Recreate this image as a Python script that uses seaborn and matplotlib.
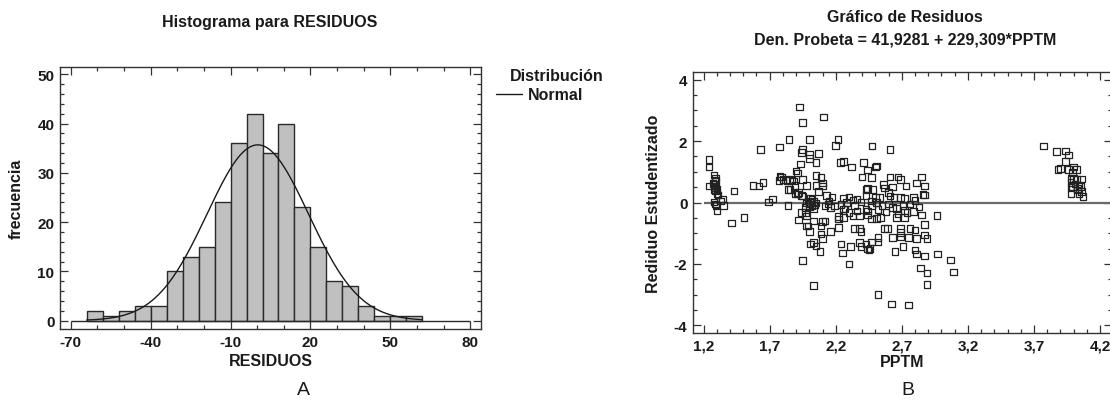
import numpy as np
import pandas as pd
import matplotlib
matplotlib.use("Agg")
import matplotlib.pyplot as plt
from matplotlib.lines import Line2D
from matplotlib.ticker import MultipleLocator, FixedLocator
import seaborn as sns

# ---- Histogram of residuals (bin edges every 6 units) ----
bin_edges = [-64, -58, -52, -46, -40, -34, -28, -22, -16, -10, -4, 2, 8,
             14, 20, 26, 32, 38, 44, 50, 56, 62]
bin_counts = [2, 1, 2, 3, 3, 10, 13, 15, 24, 36, 42, 34, 40,
              23, 15, 8, 7, 3, 1, 1, 1]
hist_xticks = [-70, -40, -10, 20, 50, 80]
hist_yticks = [0, 10, 20, 30, 40, 50]

# ---- Studentized residuals vs PPTM ----
pptm = [
    1.24, 1.24, 1.24, 1.28, 1.285, 1.29, 1.28, 1.295, 1.285, 1.30, 1.28, 1.30, 1.29,
    1.31, 1.27, 1.29, 1.28, 1.29, 1.295, 1.30, 1.345, 1.35, 1.33, 1.43, 1.41, 1.505,
    1.573, 1.62, 1.65, 1.63, 1.69, 1.72, 1.776, 1.78, 1.79, 1.77, 1.80, 1.846, 1.84,
    1.85, 1.84, 1.88, 1.89, 1.90, 1.927, 1.95, 1.94, 1.935, 1.92, 1.95, 1.95, 1.94,
    1.92, 1.95, 1.95, 1.87, 1.89, 1.855, 1.91, 1.94, 1.97, 1.98, 1.91, 1.83,
    2.109, 2.0, 2.0, 2.0, 2.07, 2.05, 2.217, 2.2, 2.236, 2.26, 2.32, 2.41, 2.44, 2.40,
    2.05, 2.09, 2.10, 2.10, 2.05, 1.98, 2.17, 2.26, 2.30, 2.33, 2.36, 2.43, 2.43,
    1.99, 2.0, 2.01, 2.02, 2.03, 2.0, 2.04, 2.02, 1.98, 2.03, 2.01, 2.05,
    2.14, 2.16, 2.12, 1.97, 1.98, 2.03, 2.10, 2.12, 2.09, 1.99, 2.00, 2.09, 2.10,
    2.16, 2.03, 2.01, 2.05, 2.08, 2.03, 2.22, 2.22, 2.26, 2.27, 2.30, 2.33, 2.36,
    2.38, 2.34, 2.38, 2.39, 2.43, 2.44, 2.24, 2.25, 2.31, 2.38, 2.39, 2.44, 2.30,
    2.26, 2.22, 2.07, 2.15, 2.19, 2.24, 2.28, 2.34, 2.39, 2.13,
    2.475, 2.61, 2.51, 2.50, 2.47, 2.61, 2.67, 2.69, 2.85, 2.81, 2.87, 2.56, 2.57,
    2.63, 2.73, 2.44, 2.48, 2.50, 2.53, 2.60, 2.61, 2.64, 2.69, 2.72, 2.79, 2.80,
    2.86, 2.87, 2.47, 2.51, 2.47, 2.52, 2.58, 2.63, 2.67, 2.71, 2.72, 2.74, 2.79,
    2.66, 2.72, 2.47, 2.51, 2.54, 2.44, 2.57, 2.59, 2.69, 2.69, 2.76, 2.80, 2.87,
    2.87, 2.89, 2.63, 2.69, 2.75, 2.81, 2.52, 2.52, 2.47, 2.43, 2.45, 2.46, 2.65,
    2.71, 2.80, 2.81, 2.87, 2.84, 2.89, 2.89, 2.52, 2.62, 2.75, 2.55, 2.60, 2.66,
    2.76, 2.83, 2.85,
    2.967, 2.97, 3.07, 3.09, 3.77, 3.87, 3.94, 3.96, 3.94, 3.88, 3.90, 3.96, 4.0,
    4.02, 3.99, 3.98, 4.0, 4.02, 4.06, 3.98, 4.01, 4.04, 4.05, 3.98, 3.99, 4.03,
    4.06, 3.98, 4.04, 4.07, 4.03,
]
resid_est = [
    1.40, 1.15, 0.53, 0.90, 0.74, 0.70, 0.59, 0.54, 0.48, 0.43, 0.42, 0.30, 0.37,
    0.25, 0.62, 0.80, 0.02, -0.05, -0.10, -0.27, 0.11, -0.10, 0.05, 0.38, -0.67, -0.49,
    0.56, 0.54, 0.65, 1.73, 0.02, 0.11, 1.80, 0.85, 0.83, 0.71, 0.75, 2.05, -0.09,
    0.75, 0.43, 0.70, 0.30, 1.02, 3.11, 2.61, 1.62, 1.26, 0.32, 0.21, 0.75, -0.33,
    -0.57, -1.89, 1.73, 0.74, 0.56, 0.43, 0.27, 0.22, -0.17, -0.76, 0.96, 0.72,
    2.78, 2.05, 1.57, 1.43, 1.59, 1.30, 2.05, 1.86, 1.30, 1.33, 1.16, 1.30, 1.06, 0.83,
    0.88, 0.81, 0.63, 0.54, 0.56, 0.56, 0.18, 0.14, 0.18, 0.08, 0.12, 0.42, 0.23,
    0.05, -0.05, 0.0, -0.10, 0.03, -0.15, -0.08, 0.10, -0.02, -0.20, 0.15, -0.02,
    -0.05, -0.16, -0.11, -0.33, -0.44, -0.60, -0.62, -0.60, -0.76, -0.76, -0.95, -1.03, -1.17,
    -0.95, -1.30, -1.35, -1.41, -1.60, -2.70, -0.54, -0.81, -0.21, -0.21, -0.33, -0.44, -0.28,
    -0.44, -0.85, -0.85, -0.95, -0.22, -0.40, -1.35, -1.65, -1.43, -1.30, -1.43, -1.51, -2.0,
    -0.49, -0.45, 0.35, 0.05, -0.12, -0.06, 0.0, -0.10, 0.02, 0.22,
    1.84, 1.73, 1.19, 1.15, 0.81, 0.83, 0.83, 0.75, 0.83, 0.64, 0.54, 0.59, 0.48,
    0.51, 0.54, 0.45, 0.43, 0.16, 0.16, 0.32, 0.21, 0.16, 0.16, 0.13, 0.16, 0.06,
    0.26, 0.24, 0.05, 0.0, -0.10, -0.22, -0.31, -0.16, -0.38, -0.10, -0.26, -0.33, -0.29,
    -0.49, -0.49, -0.54, -0.52, -0.49, -0.27, -0.85, -0.85, -0.85, -0.97, -0.85, -0.89, -0.71,
    -1.06, -1.17, -1.14, -1.12, -1.14, -1.17, -1.14, -1.28, -1.28, -1.35, -1.54, -1.50, -1.60,
    -1.43, -1.54, -1.68, -1.75, -2.14, -2.29, -2.67, -3.0, -3.30, -3.34, -0.10, -0.05, -0.20,
    -0.05, -0.15, -0.40,
    -0.43, -1.68, -1.88, -2.26, 1.84, 1.66, 1.67, 1.54, 1.33, 1.08, 1.10, 1.08, 1.16,
    1.08, 0.97, 0.78, 0.78, 0.76, 0.76, 0.65, 0.60, 0.57, 0.52, 0.49, 0.52, 0.41,
    0.36, 0.30, 0.30, 0.20, 0.45,
]
scatter_xticks = [1.2, 1.7, 2.2, 2.7, 3.2, 3.7, 4.2]
scatter_xlabels = ["1,2", "1,7", "2,2", "2,7", "3,2", "3,7", "4,2"]
scatter_yticks = [-4, -2, 0, 2, 4]

sns.set_theme(style="ticks")
plt.rcParams["font.family"] = ["Liberation Sans", "DejaVu Sans"]

W, H = 1110, 410
fig = plt.figure(figsize=(W / 100, H / 100), dpi=100)


def px_box(x0, y0, x1, y1):
    return [x0 / W, 1 - y1 / H, (x1 - x0) / W, (y1 - y0) / H]


INK = "#1a1a1a"
tick_font = dict(fontsize=11, fontweight="bold", color=INK)
label_font = dict(fontsize=11.5, fontweight="bold", color=INK)
title_font = dict(fontsize=11.5, fontweight="bold", color=INK)


def style_axes(ax):
    for sp in ax.spines.values():
        sp.set_color("#333333")
        sp.set_linewidth(1.0)
    ax.tick_params(which="both", direction="in", top=True, right=True,
                   color="#333333", width=0.9, pad=4)
    ax.tick_params(which="major", length=6)
    ax.tick_params(which="minor", length=3)


# ---------------- Panel A: histogram ----------------
axA = fig.add_axes(px_box(60, 68, 481, 330))
edges = np.array(bin_edges, dtype=float)
counts = np.array(bin_counts, dtype=float)
centers = (edges[:-1] + edges[1:]) / 2
hist_df = pd.DataFrame({"RESIDUOS": centers, "n": counts})
sns.histplot(data=hist_df, x="RESIDUOS", weights="n", bins=list(bin_edges), ax=axA,
             color="#c0c0c0", edgecolor="#2a2a2a", linewidth=1.0, alpha=1.0)

# fitted normal density scaled to counts
n_tot = counts.sum()
mu = (counts * centers).sum() / n_tot
sd = np.sqrt((counts * (centers - mu) ** 2).sum() / n_tot)
bw = edges[1] - edges[0]
xs = np.linspace(edges[0], edges[-1], 300)
dens = n_tot * bw * np.exp(-0.5 * ((xs - mu) / sd) ** 2) / (sd * np.sqrt(2 * np.pi))
sns.lineplot(x=xs, y=dens, ax=axA, color=INK, linewidth=1.0)
axA.hlines(0, hist_xticks[0], hist_xticks[-1], color="#2a2a2a", linewidth=1.0)

axA.set_xlim(-74, 84)
axA.set_ylim(-1.7, 51.5)
axA.xaxis.set_major_locator(FixedLocator(hist_xticks))
axA.xaxis.set_minor_locator(MultipleLocator(10))
axA.yaxis.set_major_locator(FixedLocator(hist_yticks))
axA.yaxis.set_minor_locator(MultipleLocator(2))
axA.set_xticklabels([str(v) for v in hist_xticks], **tick_font)
axA.set_yticklabels([str(v) for v in hist_yticks], **tick_font)
style_axes(axA)
axA.set_xlabel("RESIDUOS", labelpad=3, **label_font)
axA.set_ylabel("frecuencia", labelpad=10, **label_font)

fig.text(270 / W, 1 - 22 / H, "Histograma para RESIDUOS", ha="center", va="center",
         **title_font)

# legend
fig.text(557 / W, 1 - 77 / H, "Distribución", ha="center", va="center", **title_font)
fig.add_artist(Line2D([496 / W, 522 / W], [1 - 95 / H, 1 - 95 / H],
                      color=INK, linewidth=1.0, transform=fig.transFigure))
fig.text(528 / W, 1 - 95 / H, "Normal", ha="left", va="center", **title_font)

# ---------------- Panel B: residual plot ----------------
axB = fig.add_axes(px_box(693, 73, 1112, 334))
res_df = pd.DataFrame({"PPTM": pptm, "resid": resid_est})
axB.hlines(0, scatter_xticks[0], 4.3, color="#6a6a6a", linewidth=1.6, zorder=1)
sns.scatterplot(data=res_df, x="PPTM", y="resid", ax=axB, marker="s", s=22,
                facecolor="none", edgecolor="#222222", linewidth=0.9, zorder=2)
axB.set_xlim(1.12, 4.29)
axB.set_ylim(-4.25, 4.25)
axB.xaxis.set_major_locator(FixedLocator(scatter_xticks))
axB.xaxis.set_minor_locator(MultipleLocator(0.1))
axB.yaxis.set_major_locator(FixedLocator(scatter_yticks))
axB.yaxis.set_minor_locator(MultipleLocator(0.5))
axB.set_xticklabels(scatter_xlabels, **tick_font)
axB.set_yticklabels([str(v) for v in scatter_yticks], **tick_font)
style_axes(axB)
axB.set_xlabel("PPTM", labelpad=1, **label_font)
axB.set_ylabel("Rediduo Estudentizado", labelpad=9, **label_font)

fig.text(905 / W, 1 - 18 / H, "Gráfico de Residuos", ha="center", va="center",
         **title_font)
fig.text(905 / W, 1 - 40 / H, "Den. Probeta = 41,9281 + 229,309*PPTM", ha="center",
         va="center", **title_font)

# panel letters
fig.text(303 / W, 1 - 391 / H, "A", ha="center", va="center", fontsize=14, color=INK)
fig.text(908 / W, 1 - 391 / H, "B", ha="center", va="center", fontsize=14, color=INK)

fig.savefig("out.png", dpi=100)
